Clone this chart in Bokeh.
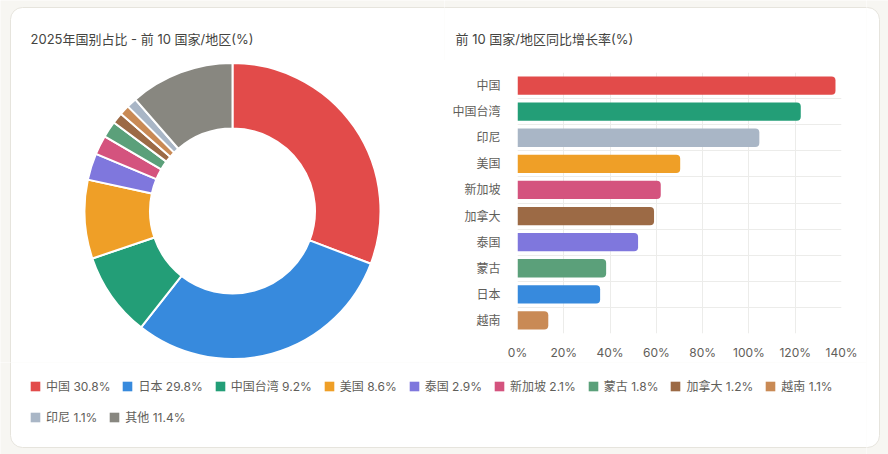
import numpy as np
from bokeh.plotting import figure
from bokeh.models import (Range1d, FactorRange, Label, Legend, LegendItem, FixedTicker,
                          PrintfTickFormatter, ColumnDataSource)
from bokeh.layouts import row, column
from bokeh.embed import file_html
from bokeh.resources import INLINE

# ---------------- data ----------------
share_names = ["中国", "日本", "中国台湾", "美国", "泰国", "新加坡", "蒙古", "加拿大", "越南", "印尼", "其他"]
share_values = [30.8, 29.8, 9.2, 8.6, 2.9, 2.1, 1.8, 1.2, 1.1, 1.1, 11.4]
share_colors = ["#E24B4A", "#378ADD", "#239E77", "#EF9F27", "#7F77DD", "#D4537E",
                "#5BA07A", "#9C6A45", "#C98A55", "#A9B6C6", "#888780"]

growth_names = ["中国", "中国台湾", "印尼", "美国", "新加坡", "加拿大", "泰国", "蒙古", "日本", "越南"]
growth_values = [137.4, 122.4, 104.5, 70.3, 61.9, 59.0, 52.1, 38.3, 35.7, 13.3]
growth_ticks = [0, 20, 40, 60, 80, 100, 120, 140]

title_left = "2025年国别占比 - 前 10 国家/地区(%)"
title_right = "前 10 国家/地区同比增长率(%)"

# ---------------- style ----------------
W, H = 888, 454
BG = "#f7f6f2"
CARD_LINE = "#e6e4dd"
FONT = "Inter, 'Noto Sans CJK SC'"
TXT = "#444441"
TICK_TXT = "#5f5e5a"
GRID = "#ececea"
CARD = dict(left=10, right=879, bottom=H - 447, top=H - 7)

color_of = dict(zip(share_names, share_colors))


def tile(x0, y0, w, h):
    p = figure(width=w, height=h, x_range=Range1d(x0, x0 + w),
               y_range=Range1d(H - (y0 + h), H - y0),
               x_axis_type=None, y_axis_type=None,
               output_backend="svg", toolbar_location=None, min_border=0)
    p.outline_line_color = None
    p.background_fill_color = BG
    p.border_fill_color = BG
    p.quad(left=[CARD["left"]], right=[CARD["right"]], bottom=[CARD["bottom"]], top=[CARD["top"]],
           fill_color="white", line_color=CARD_LINE, line_width=1, border_radius=12)
    return p


# ---------------- left: donut ----------------
L = tile(0, 0, 444, 362)
vals = np.array(share_values, dtype=float)
frac = vals / vals.sum()
cum = np.cumsum(frac)
src = ColumnDataSource(dict(
    name=share_names,
    start=np.pi / 2 - 2 * np.pi * (cum - frac),
    end=np.pi / 2 - 2 * np.pi * cum,
    color=share_colors,
))
L.annular_wedge(x=232, y=H - 210.5, inner_radius=82.5, outer_radius=148,
                start_angle="start", end_angle="end", direction="clock",
                fill_color="color", line_color="white", line_width=2, source=src)
L.add_layout(Label(x=30, y=H - 38, text=title_left, text_baseline="middle",
                   text_font_size="13px", text_color=TXT, text_font=FONT))

# ---------------- right top strip (title) ----------------
TOP = tile(444, 0, 422, 60)
TOP.add_layout(Label(x=455, y=H - 38, text=title_right, text_baseline="middle",
                     text_font_size="13px", text_color=TXT, text_font=FONT))

# ---------------- bar chart ----------------
B = figure(width=422, height=302, y_range=FactorRange(factors=list(reversed(growth_names))),
           x_range=Range1d(0, 140), output_backend="svg", toolbar_location=None,
           min_border_left=73, min_border_right=25, min_border_top=12, min_border_bottom=29)
B.outline_line_color = None
B.background_fill_color = "white"
B.border_fill_color = "white"
bsrc = ColumnDataSource(dict(name=growth_names, val=growth_values,
                             color=[color_of[n] for n in growth_names]))
B.hbar(y="name", left=0, right="val", height=0.7, fill_color="color", line_color=None,
       border_radius=(0, 4, 4, 0), source=bsrc)
B.xaxis.ticker = FixedTicker(ticks=growth_ticks)
B.xaxis.formatter = PrintfTickFormatter(format="%d%%")
for ax in (B.xaxis, B.yaxis):
    ax.axis_line_color = None
    ax.major_tick_line_color = None
    ax.minor_tick_line_color = None
    ax.major_label_text_font_size = "12px"
    ax.major_label_text_color = TICK_TXT
    ax.major_label_text_font = FONT
B.xaxis.major_label_standoff = 5
B.yaxis.major_label_standoff = 11
B.xgrid.grid_line_color = GRID
B.ygrid.grid_line_color = GRID
B.ygrid.ticker = FixedTicker(ticks=[float(i) for i in range(len(growth_names) + 1)])

# ---------------- legend ----------------
LEG = tile(0, 362, 866, 92)


def make_legend(names, values, colors, loc):
    items = []
    for n, v, c in zip(names, values, colors):
        # legend swatch source: a single off-canvas quad per item
        r = LEG.quad(left=[-40], right=[-30], top=[-30], bottom=[-40], fill_color=c, line_color=None)
        items.append(LegendItem(label=f"{n} {v}%", renderers=[r]))
    lg = Legend(items=items, location=loc, orientation="horizontal",
                padding=0, margin=0, spacing=11, glyph_width=12, glyph_height=12,
                label_standoff=5, label_text_font_size="12px", label_text_color=TICK_TXT,
                label_text_font=FONT, border_line_color=None, background_fill_alpha=0)
    LEG.add_layout(lg)


make_legend(share_names[:9], share_values[:9], share_colors[:9], (29, 60))
make_legend(share_names[9:], share_values[9:], share_colors[9:], (29, 29))

# ---------------- right strip (card edge) ----------------
RS = tile(866, 0, 22, 454)

layout = row(column(row(L, column(TOP, row(B))), LEG), RS)

open("out.html", "w").write(file_html(layout, INLINE))
